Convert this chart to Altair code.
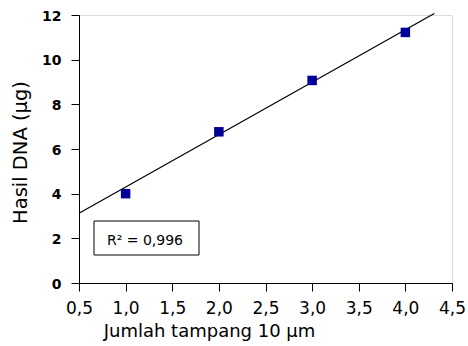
import altair as alt
import pandas as pd

# measured data points
sections = [1.0, 2.0, 3.0, 4.0]
dna_yield = [4.0, 6.77, 9.07, 11.22]

# trend line endpoints as drawn
line_x = [0.5, 4.31]
line_y = [3.12, 12.07]

x_ticks = [0.5, 1.0, 1.5, 2.0, 2.5, 3.0, 3.5, 4.0, 4.5]
y_ticks = [0, 2, 4, 6, 8, 10, 12]

r2_label = "R\u00b2 = 0,996"

FONT = "DejaVu Sans"

pts = pd.DataFrame({"x": sections, "y": dna_yield})
ln = pd.DataFrame({"x": line_x, "y": line_y})

xscale = alt.Scale(domain=[0.5, 4.5], nice=False, zero=False)
yscale = alt.Scale(domain=[0, 12], nice=False)

xaxis = alt.Axis(
    values=x_ticks,
    labelExpr="replace(format(datum.value, '.1f'), '.', ',')",
    grid=False, tickSize=8, labelPadding=9, labelFontSize=17,
    labelFont=FONT, labelColor="black", domainColor="black", tickColor="black",
    title="Jumlah tampang 10 µm", titleFont=FONT, titleFontSize=18,
    titleFontWeight="normal", titleColor="black",
    titleX=130, titleY=53, titleBaseline="alphabetic", titleAnchor="middle",
    labelFlush=False,
)
yaxis = alt.Axis(
    values=y_ticks, format="d",
    grid=False, tickSize=8, labelPadding=10, labelFontSize=14, labelFontWeight="bold",
    labelFont=FONT, labelColor="black", domainColor="black", tickColor="black",
    labelOffset=1,
    title="Hasil DNA (µg)", titleFont=FONT, titleFontSize=19.5,
    titleFontWeight="normal", titleColor="black",
    titleX=-53, titleY=137, titleBaseline="alphabetic", titleAnchor="middle",
    labelFlush=False,
)

line = alt.Chart(ln).mark_line(color="black", strokeWidth=1.2, clip=False).encode(
    x=alt.X("x:Q", scale=xscale, axis=xaxis),
    y=alt.Y("y:Q", scale=yscale, axis=yaxis),
)

points = alt.Chart(pts).mark_square(color="#000099", opacity=1, size=90).encode(
    x=alt.X("x:Q", scale=xscale),
    y=alt.Y("y:Q", scale=yscale),
)

box = alt.Chart(pd.DataFrame({"t": [r2_label]})).mark_rect(
    fill="white", stroke="black", strokeWidth=1
).encode(
    x=alt.value(15), x2=alt.value(120), y=alt.value(206), y2=alt.value(240)
)

txt = alt.Chart(pd.DataFrame({"t": [r2_label]})).mark_text(
    font=FONT, fontSize=14, color="black", align="center", baseline="alphabetic"
).encode(
    text="t:N", x=alt.value(66), y=alt.value(230)
)

chart = alt.layer(line, points, box, txt).properties(
    width=373, height=268,
    padding={"left": 79, "top": 15, "right": 16, "bottom": 63},
    autosize=alt.AutoSizeParams(type="none"),
).configure_view(stroke=None).configure(background="white")

chart.save("out.html", embed_options={"renderer": "svg", "actions": False})
